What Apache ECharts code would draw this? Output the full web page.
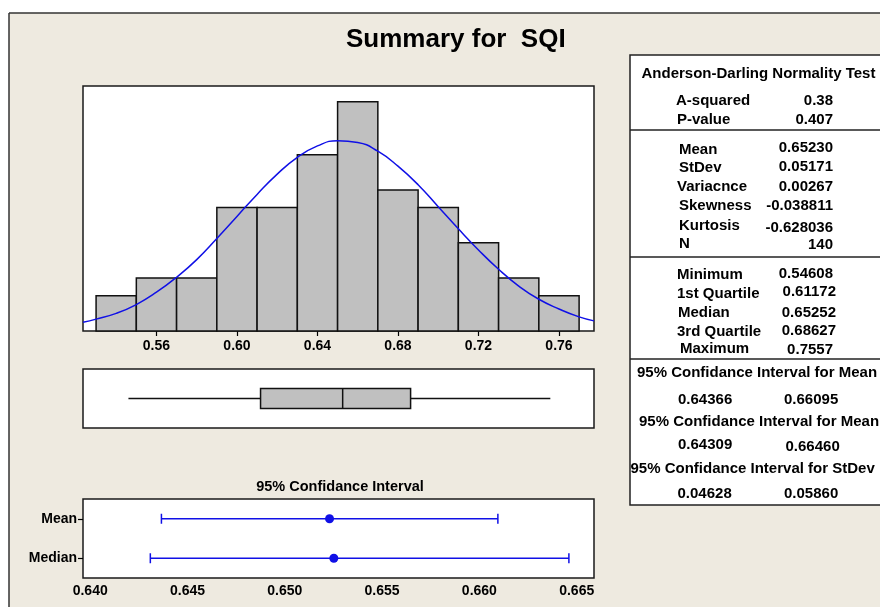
<!DOCTYPE html>
<html>
<head>
<meta charset="utf-8">
<title>Summary for SQI</title>
<script src="https://cdn.jsdelivr.net/npm/echarts@6/dist/echarts.min.js"></script>
<style>
  html, body { margin: 0; padding: 0; background: #fff; }
  #chart { width: 880px; height: 607px; }
</style>
</head>
<body>
<div id="chart"></div>
<script>
// histogram of SQI (bin edges + counts, N = 140)
const binEdges = [0.53, 0.55, 0.57, 0.59, 0.61, 0.63, 0.65, 0.67, 0.69, 0.71, 0.73, 0.75, 0.77]
const binCounts = [4, 6, 6, 14, 14, 20, 26, 16, 14, 10, 6, 4]
const histTicks = [0.56, 0.60, 0.64, 0.68, 0.72, 0.76]

// fitted normal curve (in count units)
const curveX = [0.5235, 0.53, 0.54, 0.55, 0.56, 0.57, 0.58, 0.59, 0.60, 0.61, 0.62, 0.63, 0.64,
    0.65, 0.66, 0.67, 0.68, 0.69, 0.70, 0.71, 0.72, 0.73, 0.74, 0.75, 0.76, 0.77, 0.7774]
const curveY = [1.0, 1.35, 2.0, 3.0, 4.4, 6.1, 8.1, 10.5, 13.0, 15.5, 17.8, 19.7, 21.0,
    21.6, 21.4, 20.4, 18.7, 16.6, 14.1, 11.6, 9.2, 7.0, 5.1, 3.6, 2.5, 1.6, 1.15]

// boxplot: min, Q1, median, Q3, max
const boxStats = [0.54608, 0.61172, 0.65252, 0.68627, 0.7557]

// 95% confidence intervals
const ciNames = ['Mean', 'Median']
const ciLow = [0.64366, 0.64309]
const ciCenter = [0.65230, 0.65252]
const ciHigh = [0.66095, 0.66460]
const ciTicks = [0.640, 0.645, 0.650, 0.655, 0.660, 0.665]

// summary table text
const adNames = ['A-squared', 'P-value']
const adValues = ['0.38', '0.407']
const momentNames = ['Mean', 'StDev', 'Variacnce', 'Skewness', 'Kurtosis', 'N']
const momentValues = ['0.65230', '0.05171', '0.00267', '-0.038811', '-0.628036', '140']
const quartNames = ['Minimum', '1st Quartile', 'Median', '3rd Quartile', 'Maximum']
const quartValues = ['0.54608', '0.61172', '0.65252', '0.68627', '0.7557']
const intervalTitles = ['95% Confidance Interval for Mean', '95% Confidance Interval for Mean', '95% Confidance Interval for StDev']
const intervalLow = ['0.64366', '0.64309', '0.04628']
const intervalHigh = ['0.66095', '0.66460', '0.05860']

const FONT = '"Liberation Sans", Arial, sans-serif'
const BLUE = '#1010e6'

// where the table text sits (label x, label y, value right x, value y)
const adPos = [[676, 101, 833, 101], [677, 119.5, 833, 119.5]]
const momentPos = [[679, 149.5, 833, 148], [679, 168, 833, 167], [677, 187, 833, 187],
    [679, 206, 833, 206], [679, 225.5, 833, 227.5], [679, 243.5, 833, 245]]
const quartPos = [[677, 275, 833, 273.5], [677, 293.5, 836, 292], [678, 312.5, 836, 312.5],
    [677, 331.5, 836, 331], [680, 348.5, 833, 349.5]]
const intervalPos = [[637, 373, 678, 400, 784, 400], [639, 422, 678, 445, 785.5, 446.5],
    [630.5, 469, 677.5, 493.5, 784, 493.5]]

function txt(text, x, y, align, size) {
    return {
        type: 'text',
        style: {
            text: text, x: x, y: y,
            align: align || 'left', verticalAlign: 'middle',
            font: 'bold ' + (size || 15) + 'px ' + FONT,
            fill: '#000'
        }
    }
}
function hline(y) {
    return { type: 'line', shape: { x1: 630, y1: y, x2: 880, y2: y }, style: { stroke: '#222', lineWidth: 1.5 } }
}

const graphics = [
    // white margin outside the frame
    { type: 'rect', shape: { x: 0, y: 0, width: 880, height: 13 }, style: { fill: '#fff' } },
    { type: 'rect', shape: { x: 0, y: 0, width: 9, height: 607 }, style: { fill: '#fff' } },
    { type: 'line', shape: { x1: 9, y1: 13, x2: 880, y2: 13 }, style: { stroke: '#333', lineWidth: 1.5 } },
    { type: 'line', shape: { x1: 9, y1: 13, x2: 9, y2: 607 }, style: { stroke: '#333', lineWidth: 1.5 } },
    // table box
    { type: 'rect', shape: { x: 630, y: 55, width: 260, height: 450 }, style: { fill: '#fff', stroke: '#222', lineWidth: 1.5 } },
    hline(130), hline(257), hline(359),
    txt('Anderson-Darling Normality Test', 641.5, 73.5),
    txt('95% Confidance Interval', 340, 487, 'center', 14.5)
]
adNames.forEach((n, i) => {
    graphics.push(txt(n, adPos[i][0], adPos[i][1]), txt(adValues[i], adPos[i][2], adPos[i][3], 'right'))
})
momentNames.forEach((n, i) => {
    graphics.push(txt(n, momentPos[i][0], momentPos[i][1]), txt(momentValues[i], momentPos[i][2], momentPos[i][3], 'right'))
})
quartNames.forEach((n, i) => {
    graphics.push(txt(n, quartPos[i][0], quartPos[i][1]), txt(quartValues[i], quartPos[i][2], quartPos[i][3], 'right'))
})
intervalTitles.forEach((n, i) => {
    const p = intervalPos[i]
    graphics.push(txt(n, p[0], p[1]), txt(intervalLow[i], p[2], p[3]), txt(intervalHigh[i], p[4], p[5]))
})

const labelStyle = { fontFamily: FONT, fontWeight: 'bold', fontSize: 14, color: '#000' }
const tickStyle = { color: '#000', width: 1.2 }

const option = {
    backgroundColor: '#eeeae0',
    animation: false,
    title: {
        text: 'Summary for  SQI',
        left: 341, top: 22,
        textStyle: { fontFamily: FONT, fontWeight: 'bold', fontSize: 26, color: '#000' }
    },
    grid: [
        { left: 83, top: 86, width: 511, height: 245, show: true, backgroundColor: '#fff', borderColor: '#1a1a1a', borderWidth: 1.5 },
        { left: 83, top: 369, width: 511, height: 59, show: true, backgroundColor: '#fff', borderColor: '#1a1a1a', borderWidth: 1.5 },
        { left: 83, top: 499, width: 511, height: 79, show: true, backgroundColor: '#fff', borderColor: '#1a1a1a', borderWidth: 1.5 }
    ],
    xAxis: [
        {
            gridIndex: 0, type: 'value', min: 0.5235, max: 0.7774,
            axisLine: { show: false }, splitLine: { show: false },
            axisTick: { customValues: histTicks, length: 5, lineStyle: tickStyle },
            axisLabel: Object.assign({ customValues: histTicks, margin: 8, formatter: v => v.toFixed(2) }, labelStyle)
        },
        {
            gridIndex: 1, type: 'value', min: 0.5235, max: 0.7774,
            axisLine: { show: false }, splitLine: { show: false }, axisTick: { show: false }, axisLabel: { show: false }
        },
        {
            gridIndex: 2, type: 'value', min: 0.63963, max: 0.66589,
            axisLine: { show: false }, splitLine: { show: false },
            axisTick: { customValues: ciTicks, length: 5, lineStyle: tickStyle },
            axisLabel: Object.assign({ customValues: ciTicks, margin: 6, formatter: v => v.toFixed(3) }, labelStyle)
        }
    ],
    yAxis: [
        { gridIndex: 0, type: 'value', min: 0, max: 27.8, show: false },
        { gridIndex: 1, type: 'value', min: 0, max: 1, show: false },
        {
            gridIndex: 2, type: 'category', data: ciNames, inverse: true,
            axisLine: { show: false }, splitLine: { show: false },
            axisTick: { show: true, alignWithLabel: true, length: 5, lineStyle: tickStyle },
            axisLabel: Object.assign({ margin: 6 }, labelStyle)
        }
    ],
    series: [
        {
            type: 'custom', xAxisIndex: 0, yAxisIndex: 0,
            data: binCounts.map((c, i) => [binEdges[i], binEdges[i + 1], c]),
            encode: { x: [0, 1], y: 2 },
            renderItem: function (params, api) {
                const a = api.coord([api.value(0), api.value(2)])
                const b = api.coord([api.value(1), 0])
                return {
                    type: 'rect',
                    shape: { x: a[0], y: a[1], width: b[0] - a[0], height: b[1] - a[1] },
                    style: { fill: '#c0c0c0', stroke: '#111', lineWidth: 1.5 }
                }
            }
        },
        {
            type: 'line', xAxisIndex: 0, yAxisIndex: 0,
            data: curveX.map((x, i) => [x, curveY[i]]),
            smooth: true, showSymbol: false, z: 3,
            lineStyle: { color: BLUE, width: 1.5 }
        },
        {
            type: 'custom', xAxisIndex: 1, yAxisIndex: 1,
            data: [boxStats],
            encode: { x: [0, 1, 2, 3, 4] },
            renderItem: function (params, api) {
                const px = [0, 1, 2, 3, 4].map(k => api.coord([api.value(k), 0.5])[0])
                const yc = api.coord([api.value(0), 0.5])[1]
                const h = 10
                const ls = { stroke: '#111', lineWidth: 1.5 }
                return {
                    type: 'group',
                    children: [
                        { type: 'line', shape: { x1: px[0], y1: yc, x2: px[1], y2: yc }, style: ls },
                        { type: 'line', shape: { x1: px[3], y1: yc, x2: px[4], y2: yc }, style: ls },
                        { type: 'rect', shape: { x: px[1], y: yc - h, width: px[3] - px[1], height: 2 * h }, style: { fill: '#c0c0c0', stroke: '#111', lineWidth: 1.5 } },
                        { type: 'line', shape: { x1: px[2], y1: yc - h, x2: px[2], y2: yc + h }, style: ls }
                    ]
                }
            }
        },
        {
            type: 'custom', xAxisIndex: 2, yAxisIndex: 2,
            data: ciNames.map((n, i) => [ciLow[i], ciCenter[i], ciHigh[i], i]),
            encode: { x: [0, 1, 2], y: 3 },
            renderItem: function (params, api) {
                const lo = api.coord([api.value(0), api.value(3)])
                const mid = api.coord([api.value(1), api.value(3)])
                const hi = api.coord([api.value(2), api.value(3)])
                const y = lo[1]
                const ls = { stroke: BLUE, lineWidth: 1.5 }
                return {
                    type: 'group',
                    children: [
                        { type: 'line', shape: { x1: lo[0], y1: y, x2: hi[0], y2: y }, style: ls },
                        { type: 'line', shape: { x1: lo[0], y1: y - 5, x2: lo[0], y2: y + 5 }, style: ls },
                        { type: 'line', shape: { x1: hi[0], y1: y - 5, x2: hi[0], y2: y + 5 }, style: ls },
                        { type: 'circle', shape: { cx: mid[0], cy: y, r: 4.5 }, style: { fill: BLUE } }
                    ]
                }
            }
        }
    ],
    graphic: graphics
}

const chart = echarts.init(document.getElementById('chart'))
chart.setOption(option)
</script>
</body>
</html>
